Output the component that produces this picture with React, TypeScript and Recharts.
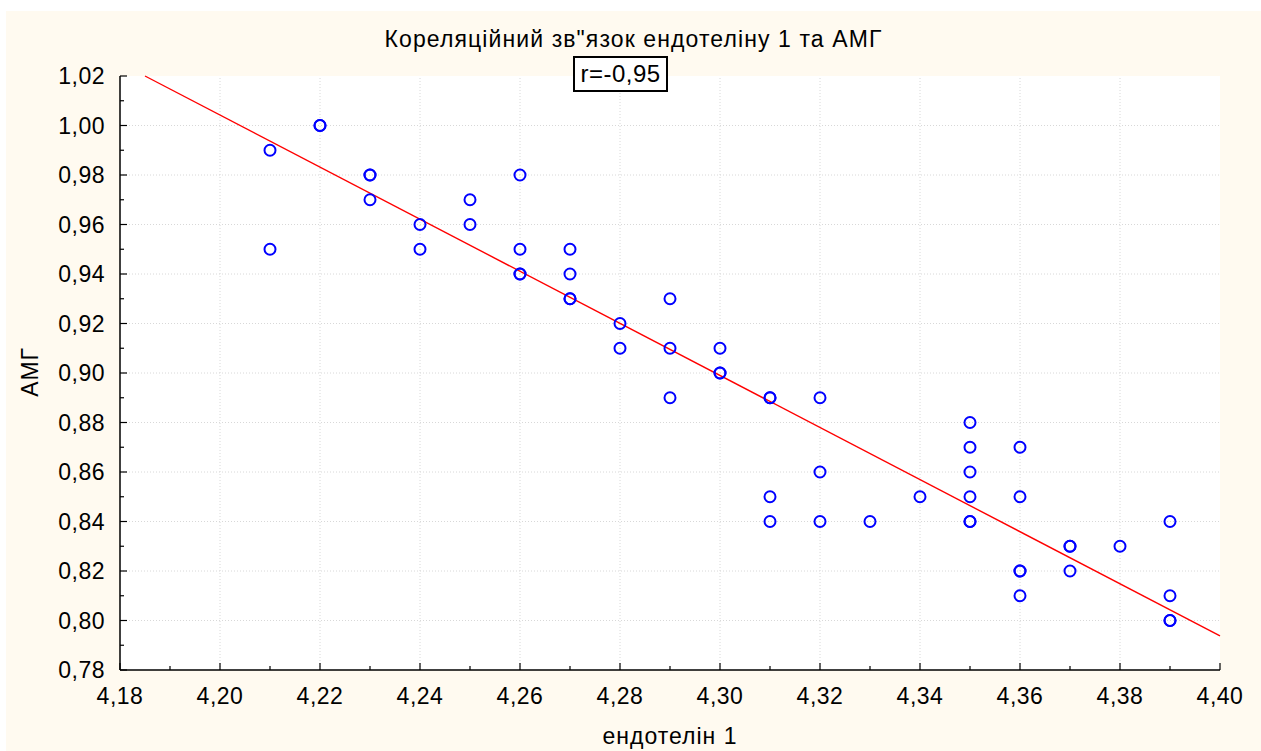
import { ScatterChart, Scatter, XAxis, YAxis, ReferenceLine } from "recharts";

// axis ticks
const xMajor = [4.18, 4.2, 4.22, 4.24, 4.26, 4.28, 4.3, 4.32, 4.34, 4.36, 4.38, 4.4];
const xMinor = [4.19, 4.21, 4.23, 4.25, 4.27, 4.29, 4.31, 4.33, 4.35, 4.37, 4.39];
const yMajor = [0.78, 0.8, 0.82, 0.84, 0.86, 0.88, 0.9, 0.92, 0.94, 0.96, 0.98, 1.0, 1.02];
const yMinor = [0.79, 0.81, 0.83, 0.85, 0.87, 0.89, 0.91, 0.93, 0.95, 0.97, 0.99, 1.01];

// observations (endothelin 1 vs AMH)
const endothelin = [
  4.21, 4.21, 4.22, 4.22, 4.23, 4.23, 4.23, 4.24, 4.24, 4.25, 4.25, 4.26, 4.26, 4.26, 4.26,
  4.27, 4.27, 4.27, 4.27, 4.28, 4.28, 4.29, 4.29, 4.29, 4.3, 4.3, 4.3, 4.31, 4.31, 4.31, 4.31,
  4.32, 4.32, 4.32, 4.33, 4.34, 4.35, 4.35, 4.35, 4.35, 4.35, 4.35, 4.36, 4.36, 4.36, 4.36,
  4.36, 4.37, 4.37, 4.37, 4.38, 4.39, 4.39, 4.39, 4.39,
];
const amg = [
  0.99, 0.95, 1.0, 1.0, 0.98, 0.98, 0.97, 0.96, 0.95, 0.97, 0.96, 0.98, 0.95, 0.94, 0.94,
  0.95, 0.94, 0.93, 0.93, 0.92, 0.91, 0.93, 0.91, 0.89, 0.91, 0.9, 0.9, 0.89, 0.89, 0.85, 0.84,
  0.89, 0.86, 0.84, 0.84, 0.85, 0.88, 0.87, 0.86, 0.85, 0.84, 0.84, 0.87, 0.85, 0.82, 0.82,
  0.81, 0.83, 0.83, 0.82, 0.83, 0.84, 0.81, 0.8, 0.8,
];

// fitted line ends
const fitX = [4.185, 4.4];
const fitY = [1.02, 0.7938];

const points = endothelin.map((x, i) => ({ x, y: amg[i] }));

const FONT = "'Liberation Sans', Arial, sans-serif";
const fmt = (v: number) => v.toFixed(2).replace(".", ",");
const isMajor = (v: number, list: number[]) => list.some((m) => Math.abs(m - v) < 1e-6);

const BottomTick = (props: any) => {
  const { x, y, payload } = props;
  const major = isMajor(payload.value, xMajor);
  return (
    <g>
      <line x1={x} x2={x} y1={y} y2={y - (major ? 7 : 4)} stroke="#000" strokeWidth={1.2} />
      {major && (
        <text x={x} y={y + 34} textAnchor="middle" fontSize={23} letterSpacing={0.5} fill="#000" fontFamily={FONT}>
          {fmt(payload.value)}
        </text>
      )}
    </g>
  );
};

const TopTick = (props: any) => {
  const { x, y, payload } = props;
  const major = isMajor(payload.value, xMajor);
  return <line x1={x} x2={x} y1={y} y2={y + (major ? 7 : 4)} stroke="#000" strokeWidth={1.2} />;
};

const LeftTick = (props: any) => {
  const { x, y, payload } = props;
  const major = isMajor(payload.value, yMajor);
  return (
    <g>
      <line x1={x} x2={x + (major ? 7 : 4)} y1={y} y2={y} stroke="#000" strokeWidth={1.2} />
      {major && (
        <text x={x - 15} y={y + 8} textAnchor="end" fontSize={23} letterSpacing={0.5} fill="#000" fontFamily={FONT}>
          {fmt(payload.value)}
        </text>
      )}
    </g>
  );
};

const RightTick = (props: any) => {
  const { x, y, payload } = props;
  const major = isMajor(payload.value, yMajor);
  return <line x1={x} x2={x - (major ? 7 : 4)} y1={y} y2={y} stroke="#000" strokeWidth={1.2} />;
};

const Ring = (props: any) => {
  const { cx, cy } = props;
  return <circle cx={cx} cy={cy} r={5.5} fill="none" stroke="#0000ff" strokeWidth={2} />;
};

const xTicks = [...xMajor, ...xMinor].sort((a, b) => a - b);
const yTicks = [...yMajor, ...yMinor].sort((a, b) => a - b);

export default function App() {
  return (
    <div style={{ position: "absolute", left: 0, top: 0, width: 1261, height: 751, background: "#fff", fontFamily: FONT }}>
      <div style={{ position: "absolute", left: 6, top: 11, width: 1255, height: 740, background: "#fffaf0" }}>
        <div style={{ position: "absolute", left: 114, top: 65, width: 1100, height: 594, background: "#fff" }} />
        <div style={{ position: "absolute", left: 0, top: 0 }}>
          <ScatterChart width={1255} height={740} margin={{ top: 65, right: 41, bottom: 21, left: 34 }}>
            <XAxis
              xAxisId="bottom"
              type="number"
              dataKey="x"
              domain={[4.18, 4.4]}
              ticks={xTicks}
              interval={0}
              height={60}
              tickSize={0}
              tickMargin={0}
              tickLine={false}
              tick={<BottomTick />}
              axisLine={{ stroke: "#000", strokeWidth: 1.5 }}
              allowDataOverflow
            />
            <XAxis
              xAxisId="top"
              orientation="top"
              type="number"
              dataKey="x"
              domain={[4.18, 4.4]}
              ticks={xTicks}
              interval={0}
              height={0}
              tickSize={0}
              tickMargin={0}
              tickLine={false}
              tick={<TopTick />}
              axisLine={{ stroke: "#000", strokeWidth: 1.5 }}
              allowDataOverflow
            />
            <YAxis
              yAxisId="left"
              type="number"
              dataKey="y"
              domain={[0.78, 1.02]}
              ticks={yTicks}
              interval={0}
              width={80}
              tickSize={0}
              tickMargin={0}
              tickLine={false}
              tick={<LeftTick />}
              axisLine={{ stroke: "#000", strokeWidth: 1.5 }}
              allowDataOverflow
            />
            <YAxis
              yAxisId="right"
              orientation="right"
              type="number"
              dataKey="y"
              domain={[0.78, 1.02]}
              ticks={yTicks}
              interval={0}
              width={0}
              tickSize={0}
              tickMargin={0}
              tickLine={false}
              tick={<RightTick />}
              axisLine={{ stroke: "#000", strokeWidth: 1.5 }}
              allowDataOverflow
            />
            {xMajor.slice(1, -1).map((v) => (
              <ReferenceLine key={"gx" + v} xAxisId="bottom" yAxisId="left" x={v} stroke="#d8d8d8" strokeDasharray="1 2" />
            ))}
            {yMajor.slice(1, -1).map((v) => (
              <ReferenceLine key={"gy" + v} xAxisId="bottom" yAxisId="left" y={v} stroke="#d8d8d8" strokeDasharray="1 2" />
            ))}
            <ReferenceLine
              xAxisId="bottom"
              yAxisId="left"
              segment={[
                { x: fitX[0], y: fitY[0] },
                { x: fitX[1], y: fitY[1] },
              ]}
              stroke="#ff0000"
              strokeWidth={1.4}
            />
            <Scatter
              xAxisId="bottom"
              yAxisId="left"
              data={points}
              shape={<Ring />}
              isAnimationActive={false}
            />
          </ScatterChart>
        </div>
        <div
          style={{
            position: "absolute",
            left: 0,
            width: 1255,
            top: 14,
            textAlign: "center",
            fontSize: 23,
            letterSpacing: 1.1,
            color: "#000",
            whiteSpace: "nowrap",
            lineHeight: "28px",
          }}
        >
          Кореляційний зв"язок ендотеліну 1 та АМГ
        </div>
        <div
          style={{
            position: "absolute",
            left: 567,
            top: 45,
            width: 95,
            height: 36,
            boxSizing: "border-box",
            border: "2px solid #000",
            background: "#fff",
            fontSize: 24,
            letterSpacing: 0.5,
            color: "#000",
            textAlign: "center",
            lineHeight: "32px",
          }}
        >
          r=-0,95
        </div>
        <div
          style={{
            position: "absolute",
            left: 114,
            width: 1100,
            top: 711,
            textAlign: "center",
            fontSize: 23,
            letterSpacing: 1,
            color: "#000",
            lineHeight: "28px",
          }}
        >
          ендотелін 1
        </div>
        <div
          style={{
            position: "absolute",
            left: 24,
            top: 361,
            width: 0,
            height: 0,
          }}
        >
          <div
            style={{
              position: "absolute",
              left: -40,
              top: -14,
              width: 80,
              textAlign: "center",
              fontSize: 23,
              letterSpacing: 0.8,
              color: "#000",
              lineHeight: "28px",
              transform: "rotate(-90deg)",
            }}
          >
            АМГ
          </div>
        </div>
      </div>
    </div>
  );
}
